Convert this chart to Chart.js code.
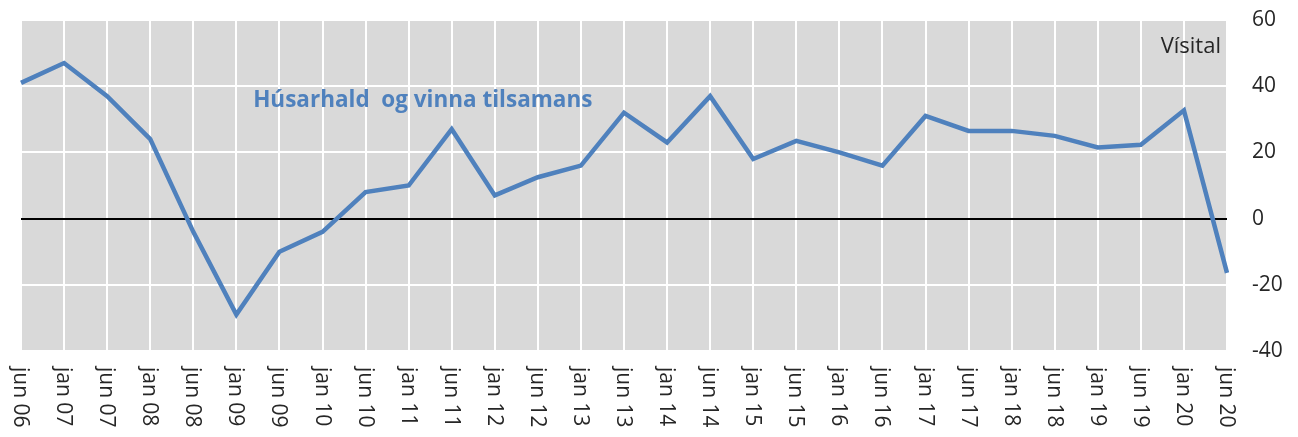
<!DOCTYPE html>
<html>
<head>
<meta charset="utf-8">
<script src="https://cdn.jsdelivr.net/npm/chart.js@4/dist/chart.umd.min.js"></script>
<style>
  html, body { margin: 0; padding: 0; background: #fff; }
  #wrap { width: 1298px; height: 437px; }
</style>
</head>
<body>
<div id="wrap"><canvas id="visitalChart"></canvas></div>
<script>
const labels = ['jun 06', 'jan 07', 'jun 07', 'jan 08', 'jun 08', 'jan 09', 'jun 09', 'jan 10',
  'jun 10', 'jan 11', 'jun 11', 'jan 12', 'jun 12', 'jan 13', 'jun 13', 'jan 14', 'jun 14',
  'jan 15', 'jun 15', 'jan 16', 'jun 16', 'jan 17', 'jun 17', 'jan 18', 'jun 18', 'jan 19',
  'jun 19', 'jan 20', 'jun 20'];
const husarhald = [41, 47, 37, 24, -4, -29, -10, -4, 8, 10, 27, 7, 12.5, 16, 32, 23, 37,
  18, 23.5, 20, 16, 31, 26.5, 26.5, 25, 21.5, 22.3, 32.7, -16.4];
const yTicks = [-40, -20, 0, 20, 40, 60];

const seriesName = 'Húsarhald  og vinna tilsamans';
const unitName = 'Vísital';
const blue = '#4f81bd';
const fontFam = '"Open Sans", "Liberation Sans", sans-serif';

// grey plot background
const plotBg = {
  id: 'plotBg',
  beforeDraw(chart) {
    const a = chart.chartArea;
    const c = chart.ctx;
    c.save();
    c.fillStyle = '#d9d9d9';
    c.fillRect(a.left, a.top, a.right - a.left, a.bottom - a.top);
    c.restore();
  }
};

// x labels rotated to read top-down, and the two text notes
const textLayer = {
  id: 'textLayer',
  afterDraw(chart) {
    const c = chart.ctx;
    const x = chart.scales.x;
    const y = chart.scales.y;
    c.save();
    c.fillStyle = '#262626';
    c.font = '21px ' + fontFam;
    c.textAlign = 'left';
    c.textBaseline = 'middle';
    labels.forEach((lab, i) => {
      c.save();
      c.translate(x.getPixelForValue(i) - 1, chart.chartArea.bottom + 16);
      c.rotate(Math.PI / 2);
      c.fillText(lab, 0, 0);
      c.restore();
    });

    c.font = 'bold 22.5px ' + fontFam;
    c.fillStyle = blue;
    c.fillText(seriesName, x.getPixelForValue(5.39), y.getPixelForValue(35.8));

    c.font = '22px ' + fontFam;
    c.fillStyle = '#262626';
    c.textAlign = 'right';
    c.fillText(unitName, x.getPixelForValue(27.86), y.getPixelForValue(52));
    c.restore();
  }
};

const ctx = document.getElementById('visitalChart').getContext('2d');

const visitalChart = new Chart(ctx, {
  type: 'line',
  data: {
    labels: labels,
    datasets: [{
      label: seriesName,
      data: husarhald,
      borderColor: blue,
      borderWidth: 4.5,
      pointRadius: 0,
      tension: 0,
      fill: false
    }]
  },
  options: {
    responsive: true,
    maintainAspectRatio: false,
    animation: false,
    layout: { padding: { left: 21, top: 20, right: 0, bottom: 0 } },
    scales: {
      x: {
        type: 'category',
        offset: false,
        border: { display: false },
        grid: { color: '#ffffff', lineWidth: 2, drawTicks: false },
        ticks: { display: false },
        afterFit(scale) {
          scale.height = 86;
          scale.paddingLeft = 0;
          scale.paddingRight = 0;
        }
      },
      y: {
        position: 'right',
        min: -40,
        max: 60,
        border: { display: false },
        grid: {
          drawTicks: false,
          lineWidth: 2,
          color: c => (c.tick && c.tick.value === 0) ? '#000000' : '#ffffff'
        },
        afterBuildTicks(scale) { scale.ticks = yTicks.map(v => ({ value: v })); },
        ticks: {
          padding: 25,
          color: '#262626',
          font: { family: fontFam, size: 21 }
        },
        afterFit(scale) {
          scale.width = 71;
          scale.paddingTop = 0;
          scale.paddingBottom = 0;
        }
      }
    },
    plugins: {
      legend: { display: false },
      tooltip: { enabled: false }
    }
  },
  plugins: [plotBg, textLayer]
});
</script>
</body>
</html>
